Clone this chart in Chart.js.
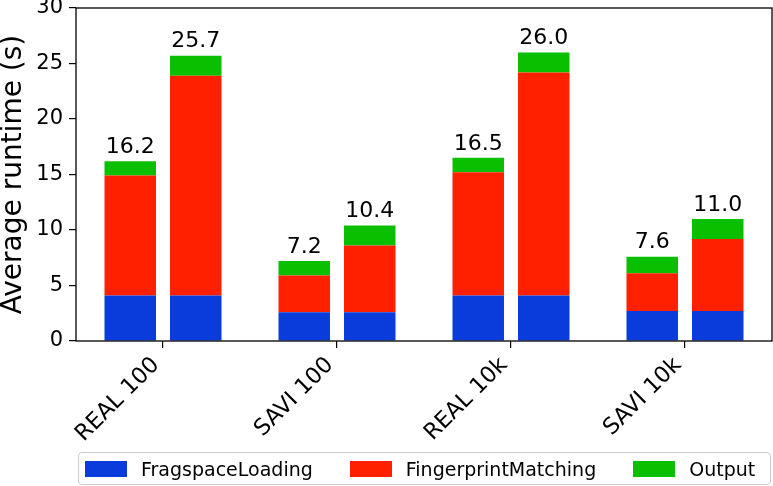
<!DOCTYPE html>
<html lang="en">
<head>
  <meta charset="UTF-8" />
  <title>Average runtime</title>
  <script src="https://cdn.jsdelivr.net/npm/chart.js"></script>
  <style>
    body { margin: 0; background: #fff; }
    #wrap { position: relative; width: 773px; height: 486px; }
    #legend {
      position: absolute; left: 78px; top: 452px; width: 685px; height: 31px;
      border: 1px solid #cccccc; border-radius: 4px;
      display: flex; align-items: center; padding-left: 6px; box-sizing: content-box;
      font-family: 'DejaVu Sans'; font-size: 19px; color: #000; white-space: nowrap;
    }
    .item { display: flex; align-items: center; margin-right: 37px; }
    .swatch { width: 42px; height: 16px; margin-right: 14px; }
  </style>
</head>
<body>

<div id="wrap">
  <canvas id="runtimeChart" width="773" height="486"></canvas>
  <div id="legend"></div>
</div>

<script>
  // Daten
  const categories = ['REAL 100', 'SAVI 100', 'REAL 10k', 'SAVI 10k'];
  const seriesNames = ['FragspaceLoading', 'FingerprintMatching', 'Output'];
  const seriesColors = ['#0a3cdc', '#ff2000', '#0abf00'];

  // linker Balken je Gruppe
  const loadingA = [4.1, 2.6, 4.1, 2.7];
  const matchingA = [10.8, 3.3, 11.1, 3.4];
  const outputA = [1.3, 1.3, 1.3, 1.5];

  // rechter Balken je Gruppe
  const loadingB = [4.1, 2.6, 4.1, 2.7];
  const matchingB = [19.8, 6.0, 20.1, 6.5];
  const outputB = [1.8, 1.8, 1.8, 1.8];

  const yTicks = [0, 5, 10, 15, 20, 25, 30];

  function makeSets(stack, values) {
    return values.map((v, i) => ({
      label: seriesNames[i],
      data: v,
      backgroundColor: seriesColors[i],
      stack: stack,
      categoryPercentage: 0.753,
      barPercentage: 0.786
    }));
  }

  const datasets = [
    ...makeSets('a', [loadingA, matchingA, outputA]),
    ...makeSets('b', [loadingB, matchingB, outputB])
  ];

  // Summen über den Balken
  const totalLabels = {
    id: 'totalLabels',
    afterDatasetsDraw(chart) {
      const ctx = chart.ctx;
      ctx.save();
      ctx.font = '22px "DejaVu Sans"';
      ctx.fillStyle = '#000';
      ctx.textAlign = 'center';
      ctx.textBaseline = 'bottom';
      [2, 5].forEach(top => {
        const meta = chart.getDatasetMeta(top);
        meta.data.forEach((bar, i) => {
          let sum = 0;
          for (let d = top - 2; d <= top; d++) sum += chart.data.datasets[d].data[i];
          ctx.fillText(sum.toFixed(1), bar.x, bar.y - 3);
        });
      });
      ctx.restore();
    }
  };

  // Rahmen um die Plotfläche
  const frame = {
    id: 'frame',
    afterDraw(chart) {
      const a = chart.chartArea;
      const ctx = chart.ctx;
      ctx.save();
      ctx.strokeStyle = '#000';
      ctx.lineWidth = 1.3;
      ctx.strokeRect(a.left, a.top, a.right - a.left, a.bottom - a.top);
      ctx.restore();
    }
  };

  function noPadding(scale) {
    scale.paddingTop = 0;
    scale.paddingBottom = 0;
    scale.paddingLeft = 0;
    scale.paddingRight = 0;
  }

  Chart.defaults.font.family = 'DejaVu Sans';
  Chart.defaults.color = '#000';

  const chart = new Chart(document.getElementById('runtimeChart'), {
    type: 'bar',
    data: { labels: categories, datasets: datasets },
    options: {
      responsive: false,
      animation: false,
      layout: { padding: { top: 8, right: 1, bottom: 34, left: 0 } },
      plugins: {
        legend: { display: false },
        tooltip: { enabled: false }
      },
      scales: {
        x: {
          stacked: true,
          border: { display: false },
          grid: { display: true, drawOnChartArea: false, offset: false, tickLength: 7, color: '#000', lineWidth: 1.2 },
          ticks: { font: { size: 22.5 }, minRotation: 45, maxRotation: 45, padding: 4, labelOffset: -7 },
          afterFit(scale) { scale.height = 111; noPadding(scale); }
        },
        y: {
          stacked: true,
          min: 0,
          max: 30,
          border: { display: false },
          grid: { display: true, drawOnChartArea: false, tickLength: 7, color: '#000', lineWidth: 1.2 },
          ticks: { font: { size: 21 }, padding: 6, stepSize: 5 },
          afterBuildTicks(scale) { scale.ticks = yTicks.map(v => ({ value: v })); },
          title: { display: true, text: 'Average runtime (s)', font: { size: 28 }, padding: { top: -3, bottom: 0 } },
          afterFit(scale) { scale.width = 76; noPadding(scale); }
        }
      }
    },
    plugins: [totalLabels, frame]
  });

  // Legende als HTML
  const legendEl = document.getElementById('legend');
  seriesNames.forEach((name, i) => {
    const item = document.createElement('div');
    item.className = 'item';
    item.innerHTML = '<span class="swatch" style="background:' + seriesColors[i] + '"></span><span>' + name + '</span>';
    legendEl.appendChild(item);
  });
</script>

</body>
</html>
